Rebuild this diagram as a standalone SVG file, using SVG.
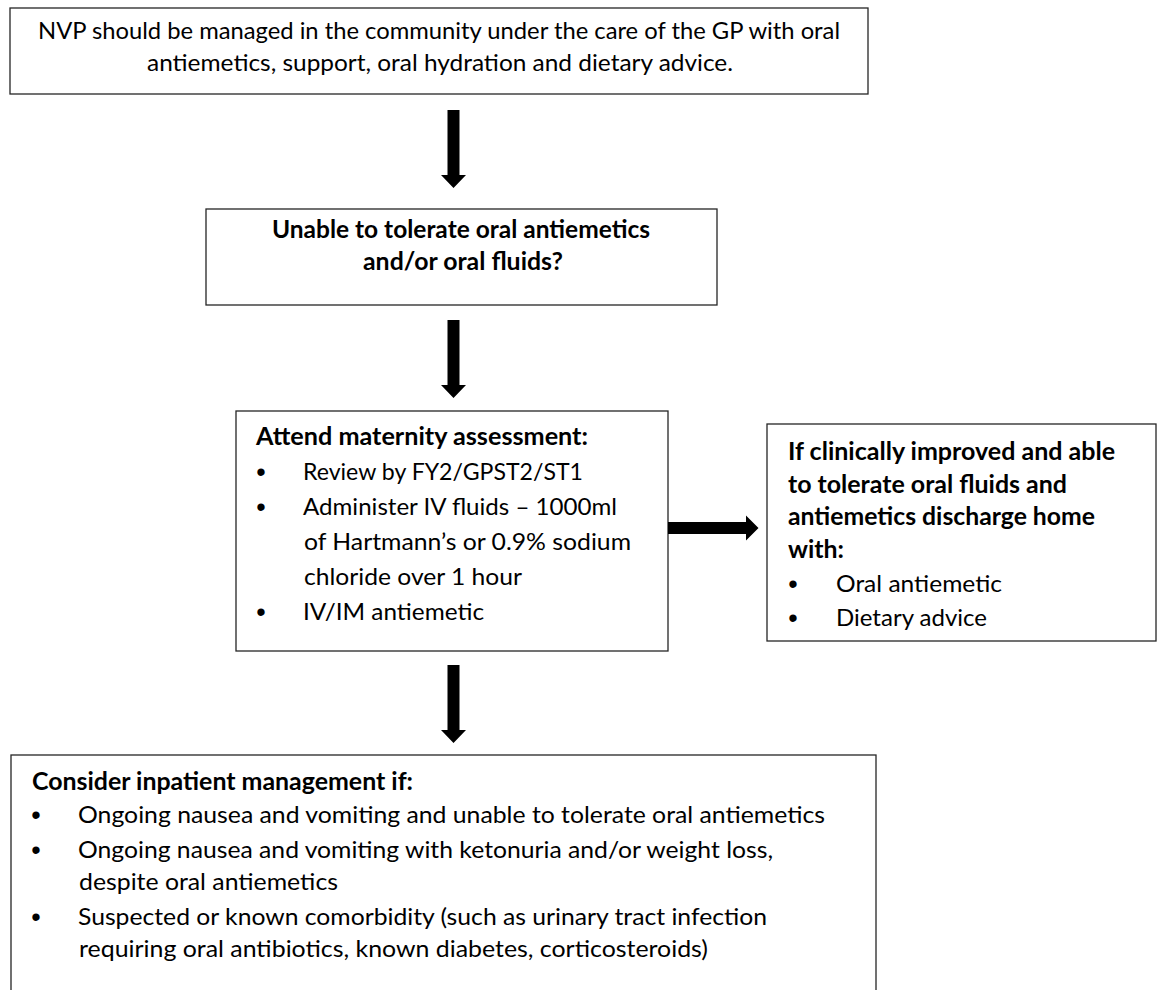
<svg xmlns="http://www.w3.org/2000/svg" width="1160" height="990" viewBox="0 0 1160 990">
<style>
.box{fill:#fff;stroke:#262626;stroke-width:1.3}
.t{font-family:Lato,"Liberation Sans",sans-serif;font-size:24px;fill:#000}
.b{font-weight:bold}
.c{text-anchor:middle}
.bu{font-family:"Liberation Sans",sans-serif;font-size:27px;text-anchor:middle;fill:#000}
.arr{fill:#000}
</style>
<rect width="1160" height="990" fill="#fff"/>
<g id="n1">
<rect class="box" x="10" y="8" width="858" height="86"/>
<text class="t c" x="439" y="39" textLength="802" lengthAdjust="spacingAndGlyphs">NVP should be managed in the community under the care of the GP with oral</text>
<text class="t c" x="440" y="71" textLength="586" lengthAdjust="spacingAndGlyphs">antiemetics, support, oral hydration and dietary advice.</text>
</g>
<g id="n2">
<rect class="box" x="206" y="209" width="511" height="96"/>
<text class="t b" x="272" y="238" textLength="378" lengthAdjust="spacingAndGlyphs">Unable to tolerate oral antiemetics</text>
<text class="t b" x="363" y="270" textLength="200" lengthAdjust="spacingAndGlyphs">and/or oral fluids?</text>
</g>
<g id="n3">
<rect class="box" x="236" y="411" width="432" height="240"/>
<text class="t b" x="256" y="445" textLength="332" lengthAdjust="spacingAndGlyphs">Attend maternity assessment:</text>
<text class="bu" x="261" y="481">•</text><text class="t" x="303" y="480" textLength="280" lengthAdjust="spacingAndGlyphs">Review by FY2/GPST2/ST1</text>
<text class="bu" x="261" y="516">•</text><text class="t" x="303" y="515" textLength="314" lengthAdjust="spacingAndGlyphs">Administer IV fluids – 1000ml</text>
<text class="t" x="304" y="550" textLength="327" lengthAdjust="spacingAndGlyphs">of Hartmann’s or 0.9% sodium</text>
<text class="t" x="304" y="585" textLength="218" lengthAdjust="spacingAndGlyphs">chloride over 1 hour</text>
<text class="bu" x="261" y="621">•</text><text class="t" x="303" y="620" textLength="181" lengthAdjust="spacingAndGlyphs">IV/IM antiemetic</text>
</g>
<g id="n4">
<rect class="box" x="767" y="424" width="389" height="217"/>
<text class="t b" x="788" y="460" textLength="327" lengthAdjust="spacingAndGlyphs">If clinically improved and able</text>
<text class="t b" x="788" y="493" textLength="279" lengthAdjust="spacingAndGlyphs">to tolerate oral fluids and</text>
<text class="t b" x="788" y="525" textLength="307" lengthAdjust="spacingAndGlyphs">antiemetics discharge home</text>
<text class="t b" x="788" y="558" textLength="56" lengthAdjust="spacingAndGlyphs">with:</text>
<text class="bu" x="793" y="593">•</text><text class="t" x="836" y="592" textLength="166" lengthAdjust="spacingAndGlyphs">Oral antiemetic</text>
<text class="bu" x="793" y="627">•</text><text class="t" x="836" y="626" textLength="151" lengthAdjust="spacingAndGlyphs">Dietary advice</text>
</g>
<g id="n5">
<rect class="box" x="11" y="755" width="865" height="260"/>
<text class="t b" x="32" y="790" textLength="381" lengthAdjust="spacingAndGlyphs">Consider inpatient management if:</text>
<text class="bu" x="36" y="824">•</text><text class="t" x="78" y="823" textLength="747" lengthAdjust="spacingAndGlyphs">Ongoing nausea and vomiting and unable to tolerate oral antiemetics</text>
<text class="bu" x="36" y="859">•</text><text class="t" x="78" y="858" textLength="695" lengthAdjust="spacingAndGlyphs">Ongoing nausea and vomiting with ketonuria and/or weight loss,</text>
<text class="t" x="79" y="890" textLength="259" lengthAdjust="spacingAndGlyphs">despite oral antiemetics</text>
<text class="bu" x="36" y="926">•</text><text class="t" x="78" y="925" textLength="689" lengthAdjust="spacingAndGlyphs">Suspected or known comorbidity (such as urinary tract infection</text>
<text class="t" x="79" y="957" textLength="629" lengthAdjust="spacingAndGlyphs">requiring oral antibiotics, known diabetes, corticosteroids)</text>
</g>
<g id="connectors">
<path class="arr" d="M447.5,110 H459.5 V175 H466 L453.5,188 L441,175 H447.5 Z"/>
<path class="arr" d="M447.5,320 H459.5 V385 H466 L453.5,398 L441,385 H447.5 Z"/>
<path class="arr" d="M447.5,665 H459.5 V730 H466 L453.5,743 L441,730 H447.5 Z"/>
<path class="arr" d="M668,522 V534 H746 V540.5 L758.5,528 L746,515.5 V522 Z"/>
</g>
</svg>
